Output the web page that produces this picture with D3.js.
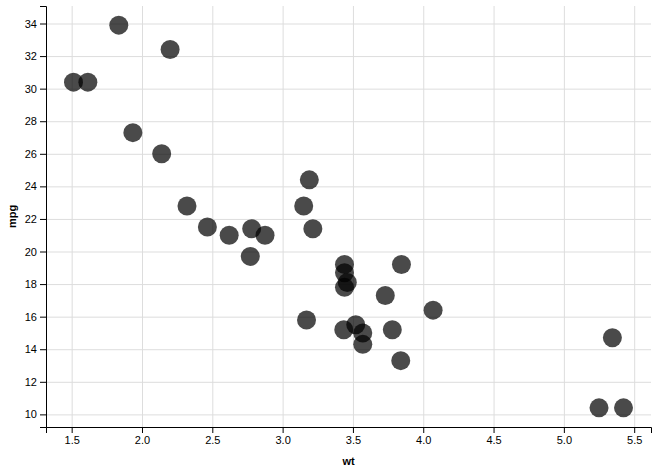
<!DOCTYPE html>
<html>
<head>
<meta charset="utf-8">
<script src="https://cdn.jsdelivr.net/npm/d3@7"></script>
<style>
  body { margin: 0; background: #fff; }
  svg { font-family: "Liberation Sans", Arial, sans-serif; }
  .grid line { stroke: #ddd; stroke-width: 1; }
  .grid .domain { display: none; }
  .axis text { font-size: 11px; fill: #000; }
  .label { font-size: 11px; font-weight: bold; }
</style>
</head>
<body>
<svg id="canvas" width="657" height="475"></svg>
<script>
// mtcars: weight (1000 lbs) and miles per gallon
let wt = [2.620, 2.875, 2.320, 3.215, 3.440, 3.460, 3.570, 3.190, 3.150, 3.440, 3.440,
          4.070, 3.730, 3.780, 5.250, 5.424, 5.345, 2.200, 1.615, 1.835, 2.465, 3.520,
          3.435, 3.840, 3.845, 1.935, 2.140, 1.513, 3.170, 2.770, 3.570, 2.780];
let mpg = [21.0, 21.0, 22.8, 21.4, 18.7, 18.1, 14.3, 24.4, 22.8, 19.2, 17.8,
           16.4, 17.3, 15.2, 10.4, 10.4, 14.7, 32.4, 30.4, 33.9, 21.5, 15.5,
           15.2, 13.3, 19.2, 27.3, 26.0, 30.4, 15.8, 19.7, 15.0, 21.4];
let xTicks = [1.5, 2.0, 2.5, 3.0, 3.5, 4.0, 4.5, 5.0, 5.5];
let yTicks = [10, 12, 14, 16, 18, 20, 22, 24, 26, 28, 30, 32, 34];

let margin = {top: 6, right: 6, bottom: 48, left: 46};
let width = 657 - margin.left - margin.right;
let height = 475 - margin.top - margin.bottom;

let pad = (ext)=>{
    let d = (ext[1] - ext[0]) * 0.05
    return [ext[0] - d, ext[1] + d]
}

let xScale = d3.scaleLinear().domain(pad(d3.extent(wt))).range([0, width]);
let yScale = d3.scaleLinear().domain(pad(d3.extent(mpg))).range([height, 0]);

let canvas = d3.select('#canvas');
let g = canvas.append('g').attr('transform', `translate(${margin.left},${margin.top})`);

// grid
g.append('g').attr('class', 'grid')
 .attr('transform', `translate(0,${height})`)
 .call(d3.axisBottom(xScale).tickValues(xTicks).tickSize(-height).tickFormat(''));
g.append('g').attr('class', 'grid')
 .call(d3.axisLeft(yScale).tickValues(yTicks).tickSize(-width).tickFormat(''));

// points
g.selectAll('circle')
 .data(wt.map((w, i)=>({wt: w, mpg: mpg[i]})))
 .enter()
 .append('circle')
 .attr('cx', (d)=>xScale(d.wt))
 .attr('cy', (d)=>yScale(d.mpg))
 .attr('r', 9.5)
 .attr('fill', '#000')
 .attr('fill-opacity', 0.71);

// axes
g.append('g').attr('class', 'axis')
 .attr('transform', `translate(0,${height})`)
 .call(d3.axisBottom(xScale).tickValues(xTicks).tickFormat(d3.format('.1f')).tickSizeOuter(6));
g.append('g').attr('class', 'axis')
 .call(d3.axisLeft(yScale).tickValues(yTicks).tickSizeOuter(6));
canvas.selectAll('.axis .domain, .axis line').attr('stroke', '#000');

// labels
canvas.append('text').attr('class', 'label')
 .attr('x', margin.left + width / 2).attr('y', 465)
 .attr('text-anchor', 'middle').text('wt');
canvas.append('text').attr('class', 'label')
 .attr('transform', `translate(16,${margin.top + height / 2}) rotate(-90)`)
 .attr('text-anchor', 'middle').text('mpg');
</script>
</body>
</html>
